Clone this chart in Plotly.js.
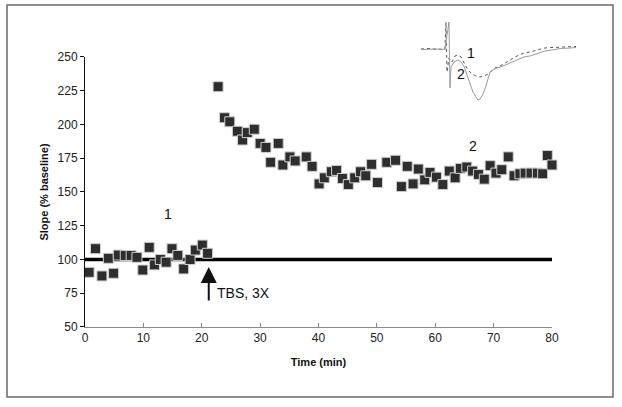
<!DOCTYPE html>
<html>
<head>
<meta charset="utf-8">
<script src="https://cdn.plot.ly/plotly-3.0.1.min.js"></script>
<style>html,body{margin:0;padding:0;background:#fff;}#chart{width:622px;height:407px;}</style>
</head>
<body>
<div id="chart"></div>
<script>
// Time (min) and slope (% baseline), baseline period and post-TBS
const timeMin = [0.7,1.8,2.9,4.0,4.9,5.7,6.9,7.9,8.9,9.9,11.0,11.9,12.9,13.9,14.9,15.9,16.9,18.0,18.9,20.1,21.0,
  22.8,23.9,24.8,26.1,27.0,27.8,29.0,30.0,31.0,31.8,33.1,33.9,35.1,36.0,37.9,38.9,40.1,41.0,42.2,43.1,44.1,45.1,46.2,47.2,48.1,49.1,50.1,51.7,53.2,54.2,55.2,56.2,57.1,58.2,59.1,60.2,61.3,62.4,63.4,64.3,65.4,66.4,67.4,68.4,69.4,70.4,71.4,72.5,73.5,74.5,75.4,76.4,77.5,78.4,79.2,80.0];
const slope = [90.5,108,87.8,100.9,89.8,103.3,103,103,101.6,92.2,109,96,100,98,108,103,93,100,107,110.7,104.6,
  228,205,202,195,188.5,194,196.5,186,183,172,186,170,176,173,176,169,156,160.5,165,166,160,155.5,160.5,165,162,170.5,157,172,173.5,154,169,156,167,159,164.5,161,155.5,165.5,160.5,167.5,168.5,165.5,163,159.5,169.5,164,166.5,176,162,163.5,164,164,164,163.5,177,170];

// baseline reference line
const refX = [0, 80];
const refY = [100, 100];

// inset field potential traces (ms, mV)
const trace1Ms = [0.2,2.0,3.6,5.0,5.2,5.4,5.8,6.4,7.0,7.6,8.2,8.8,9.6,10.4,11.2,12.0,12.8,13.6,14.2,15.0,16.0,17.0,18.0,19.4,20.8,22.0,23.4,25.0,26.4,28.0,30.0,31.2];
const trace1mV = [-0.08,-0.07,-0.09,-0.08,0.46,-0.54,-0.26,-0.34,-0.22,-0.20,-0.24,-0.36,-0.50,-0.58,-0.62,-0.64,-0.62,-0.58,-0.52,-0.46,-0.42,-0.36,-0.30,-0.22,-0.16,-0.14,-0.10,-0.06,-0.05,-0.04,-0.03,-0.03];
const trace2Ms = [0.2,2.0,3.6,5.0,5.8,6.0,6.2,6.8,7.6,8.2,8.8,9.4,10.0,10.6,11.2,11.6,12.0,12.6,13.2,13.6,14.0,14.6,15.4,16.6,18.0,19.4,20.8,22.0,23.4,25.0,26.4,28.0,30.0,31.2];
const trace2mV = [-0.09,-0.08,-0.08,-0.09,0.46,-0.86,-0.44,-0.34,-0.30,-0.34,-0.42,-0.60,-0.78,-0.94,-1.04,-1.10,-1.08,-0.98,-0.82,-0.66,-0.54,-0.50,-0.46,-0.42,-0.36,-0.30,-0.24,-0.22,-0.18,-0.12,-0.10,-0.07,-0.06,-0.05];

const yTicks = [50,75,100,125,150,175,200,225,250];
const xTicks = [0,10,20,30,40,50,60,70,80];

const FONT = '"Liberation Sans", Arial, sans-serif';

const data = [
  {x: refX, y: refY, type:'scatter', mode:'lines', line:{color:'#000', width:3.5}, hoverinfo:'skip', xaxis:'x', yaxis:'y'},
  {x: timeMin, y: slope, type:'scatter', mode:'markers', cliponaxis:false,
   marker:{symbol:'square', size:10, color:'#2e2e2e', line:{color:'#d0d0d0', width:1}}, xaxis:'x', yaxis:'y'},
  {x: trace1Ms, y: trace1mV, type:'scatter', mode:'lines', line:{color:'#555', width:1, dash:'dot'}, xaxis:'x2', yaxis:'y2'},
  {x: trace2Ms, y: trace2mV, type:'scatter', mode:'lines', line:{color:'#9a9a9a', width:1}, xaxis:'x2', yaxis:'y2'}
];

const layout = {
  width:622, height:407,
  margin:{l:85, r:30, t:15, b:80},
  paper_bgcolor:'#fff', plot_bgcolor:'rgba(0,0,0,0)',
  showlegend:false,
  font:{family:FONT, size:12, color:'#222'},
  xaxis:{domain:[0,0.9211], range:[0,80], tickvals:xTicks, ticktext:xTicks.map(String),
    showgrid:false, zeroline:false, showline:true, linecolor:'#8a8a8a', linewidth:1,
    ticks:'inside', ticklen:4, tickcolor:'#8a8a8a', tickfont:{size:12, color:'#222'},
    title:{text:'<b>Time (min)</b>', font:{size:11, color:'#111'}, standoff:13}},
  yaxis:{domain:[0,0.8654], range:[50,250], tickvals:yTicks, ticktext:yTicks.map(String),
    showgrid:false, zeroline:false, showline:true, linecolor:'#111', linewidth:1,
    ticks:'outside', ticklen:4, tickcolor:'#111', tickfont:{size:12, color:'#222'},
    title:{text:'<b>Slope (% baseline)</b>', font:{size:11, color:'#111'}, standoff:6}},
  xaxis2:{domain:[0.6607,0.9763], range:[0,32], visible:false, anchor:'y2'},
  yaxis2:{domain:[0.7115,0.984], range:[-1.2,0.5], visible:false, anchor:'x2'},
  annotations:[
    {x:14.3, y:134, xref:'x', yref:'y', text:'1', showarrow:false, font:{size:14, color:'#111'}},
    {x:66.4, y:184, xref:'x', yref:'y', text:'2', showarrow:false, font:{size:14, color:'#111'}},
    {x:21.2, y:94.4, xref:'x', yref:'y', text:'', showarrow:true, ax:0, ay:35,
     arrowhead:2, arrowsize:1.6, arrowwidth:2, arrowcolor:'#111'},
    {x:22.2, y:75, xref:'x', yref:'y', text:'TBS, 3X', xanchor:'left', showarrow:false, font:{size:14, color:'#111'}},
    {x:10.3, y:-0.15, xref:'x2', yref:'y2', text:'1', showarrow:false, font:{size:14, color:'#111'}},
    {x:8.3, y:-0.57, xref:'x2', yref:'y2', text:'2', showarrow:false, font:{size:14, color:'#111'}}
  ],
  shapes:[
    {type:'rect', xref:'paper', yref:'paper', x0:-0.1538, x1:1.0414, y0:-0.2244, y1:1.032,
     line:{color:'#6a6a6a', width:1.5}, fillcolor:'rgba(0,0,0,0)', layer:'below'}
  ]
};

Plotly.newPlot('chart', data, layout, {displayModeBar:false, staticPlot:true});
</script>
</body>
</html>
